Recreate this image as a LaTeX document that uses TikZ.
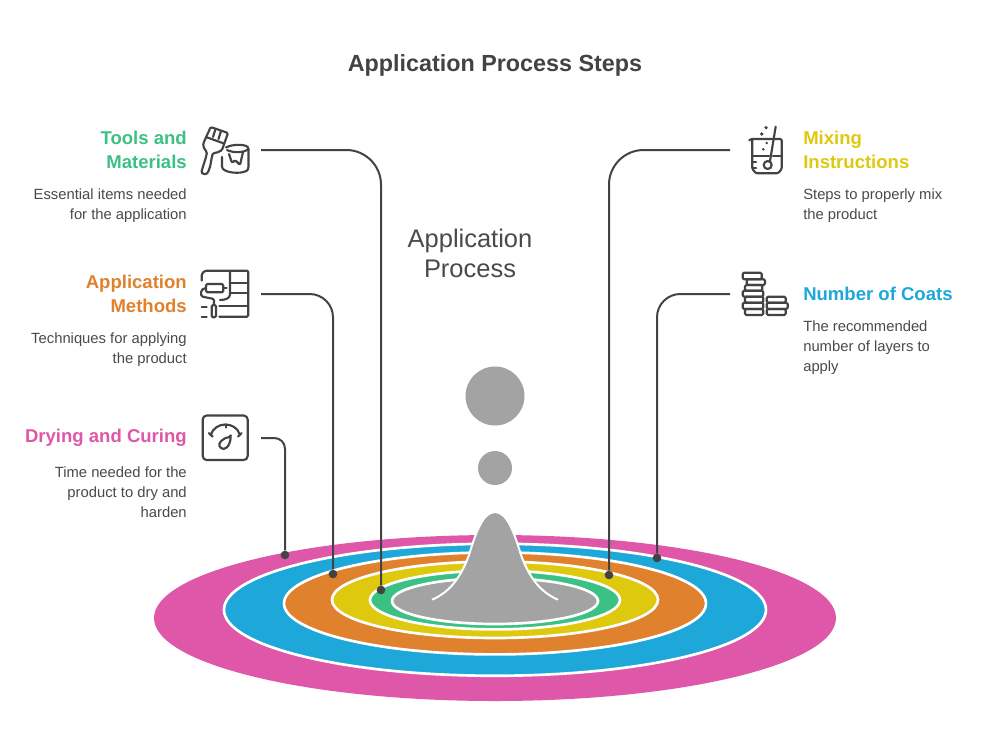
\documentclass[tikz,border=0pt]{standalone}
\usepackage{fontspec}
\setmainfont{Liberation Sans}
\definecolor{ink}{HTML}{434343}
\definecolor{txt}{HTML}{4A4A4A}
\definecolor{pinkc}{HTML}{DF57A8}
\definecolor{bluec}{HTML}{1EA8DA}
\definecolor{orangec}{HTML}{E0812E}
\definecolor{yellowc}{HTML}{DFC90F}
\definecolor{greenc}{HTML}{3CC184}
\definecolor{greyc}{HTML}{A3A3A3}
\tikzset{
  x=0.75pt,y=-0.75pt,
  ring/.style={draw=white,line width=2pt},
  wire/.style={draw=ink,line width=1.5pt,rounded corners=26pt},
  dotn/.style={circle,fill=ink,inner sep=0pt,minimum size=6.5pt},
  ico/.style={draw=ink,line width=1.6pt,line cap=round,line join=round,rounded corners=1pt},
  head/.style={font=\bfseries\fontsize{13.9}{18}\selectfont,align=right,inner sep=0pt},
  body/.style={font=\fontsize{11.1}{15}\selectfont,text=txt,inner sep=0pt},
}
\begin{document}
\begin{tikzpicture}
\useasboundingbox (0,0) rectangle (982,751);
\fill[white] (0,0) rectangle (982,751);
\node[font=\bfseries\fontsize{17.5}{21}\selectfont,text=ink,inner sep=0pt] (title) at (495,65.5) {Application Process Steps};
\node[font=\fontsize{19.1}{22.5}\selectfont,text=txt,align=center,inner sep=0pt] (center) at (470,253) {Application\\Process};

% rings
\fill[pinkc] (495,618) ellipse [x radius=341,y radius=83];
\filldraw[ring,fill=bluec] (495,609.75) ellipse [x radius=271,y radius=66];
\filldraw[ring,fill=orangec] (495,603.4) ellipse [x radius=211,y radius=51];
\filldraw[ring,fill=yellowc] (495,599.75) ellipse [x radius=163,y radius=38.25];
\filldraw[ring,fill=greenc] (495,600) ellipse [x radius=125,y radius=29.4];
\filldraw[ring,fill=greyc] (495,601) ellipse [x radius=103,y radius=23];
% bell
\path[fill=greyc] (432.5,599.5) .. controls (452,591) and (462,574) .. (469,555) .. controls (476,532) and (483,512) .. (495,512) .. controls (507,512) and (514,532) .. (521,555) .. controls (528,574) and (538,591) .. (557.5,599.5) -- (495,615) -- cycle;
\draw[white,line width=1.5pt,line cap=round] (432.5,599.5) .. controls (452,591) and (462,574) .. (469,555) .. controls (476,532) and (483,512) .. (495,512) .. controls (507,512) and (514,532) .. (521,555) .. controls (528,574) and (538,591) .. (557.5,599.5);
\fill[greyc] (495,396) circle [radius=29.5];
\fill[greyc] (495,468) circle [radius=17];

% dots and connector ends
\node[dotn] (d1) at (381,590) {};
\node[dotn] (d2) at (333,574) {};
\node[dotn] (d3) at (285,555) {};
\node[dotn] (d4) at (609,575) {};
\node[dotn] (d5) at (657,558) {};
\coordinate (s1) at (261,150);
\coordinate (s2) at (261,294);
\coordinate (s3) at (261,438);
\coordinate (s4) at (730,150);
\coordinate (s5) at (730,294);
\draw[wire] (s1) -| (d1);
\draw[wire,rounded corners=17.5pt] (s2) -| (d2);
\draw[wire,rounded corners=8pt] (s3) -| (d3);
\draw[wire] (s4) -| (d4);
\draw[wire,rounded corners=17.5pt] (s5) -| (d5);

% left texts
\node[head,text=greenc,anchor=east] (t1) at (187,150) {Tools and\\Materials};
\node[body,anchor=east,align=right] (b1) at (187,206) {Essential items needed\\for the application};
\node[head,text=orangec,anchor=east] (t2) at (187,294) {Application\\Methods};
\node[body,anchor=east,align=right] (b2) at (187,350) {Techniques for applying\\the product};
\node[head,text=pinkc,anchor=east] (t3) at (187,438) {Drying and Curing};
\node[body,anchor=east,align=right] (b3) at (187,492) {Time needed for the\\product to dry and\\harden};
% right texts
\node[head,text=yellowc,anchor=west,align=left] (t4) at (803,150) {Mixing\\Instructions};
\node[body,anchor=west,align=left] (b4) at (803,206) {Steps to properly mix\\the product};
\node[head,text=bluec,anchor=west,align=left] (t5) at (803,294) {Number of Coats};
\node[body,anchor=west,align=left] (b5) at (803,348) {The recommended\\number of layers to\\apply};

% icon: brush and can
\draw[ico] (210.7,127) -- (228,133) -- (222,150) .. controls (219,152) and (216,153) .. (213,153) .. controls (211,159) and (211,166) .. (208,172) .. controls (206,175) and (201,174) .. (202,170) .. controls (204,163) and (206,158) .. (207,152) .. controls (204,149) and (203,146) .. (203.5,143) -- cycle;
\draw[ico] (206,137) -- (224,143.5);
\draw[ico] (215.5,129) -- (213,137);
\draw[ico] (221,131) -- (218.5,139);
\draw[ico] (226,147.5) .. controls (232,144) and (245,144) .. (248.5,148) -- (248.5,168) .. controls (246,174) and (228,174) .. (222,168) -- (222,157);
\draw[ico] (227,150) .. controls (233,153) and (244,153) .. (248.5,149);
\draw[ico] (229,154) -- (232,163) -- (235,160) -- (240,165) -- (243,152);
% icon: roller and wall
\draw[ico] (201.7,280.5) -- (201.7,274) -- (205,270.7) -- (248.3,270.7) -- (248.3,316.7) -- (219.3,316.7);
\draw[ico] (230,271) -- (230,293) .. controls (230,298) and (226,300) .. (220,300);
\draw[ico] (230,283.3) -- (248.3,283.3);
\draw[ico] (230,293.3) -- (248.3,293.3);
\draw[ico] (219.3,305.7) -- (248.3,305.7);
\draw[ico] (206,284) rectangle (223.3,292.3);
\draw[ico] (223.3,288.3) -- (226.7,288.3);
\draw[ico] (206,288) .. controls (200,288) and (200,296) .. (204,297) -- (214,299) -- (214,304);
\draw[ico] (211.7,305) rectangle (216,317.3);
\draw[ico] (201.7,306.7) -- (206.7,306.7);
\draw[ico] (201.7,316.7) -- (206.7,316.7);
% icon: gauge
\draw[ico,rounded corners=3pt] (202.7,415.5) rectangle (247.7,460);
\draw[ico] (210.7,435) .. controls (215,421) and (236,421) .. (240,435);
\draw[ico] (225.7,424.5) -- (225.7,427.5);
\draw[ico] (209,433) -- (212.5,436.5);
\draw[ico] (241.7,433) -- (238.2,436.5);
\draw[ico] (230.7,436.7) .. controls (223,438) and (218,443) .. (220,447) .. controls (224,451) and (230,447) .. (230.7,436.7) -- cycle;
% icon: beaker
\draw[ico] (749.3,140.5) -- (750.5,139) -- (781.7,139) -- (781.7,169) -- (778,173.3) -- (756,173.3) -- (752.3,169) -- (752.3,140);
\draw[ico] (752.3,155.7) -- (769,155.7);
\draw[ico] (773,155.7) -- (781.7,155.7);
\draw[ico] (752.3,161.7) -- (756,161.7);
\draw[ico] (752.3,167.7) -- (756,167.7);
\draw[ico] (775.7,126.7) -- (770,161);
\draw[ico] (767.7,165) circle [radius=4];
\fill[ink] (766,127.7) circle [radius=1.8];
\fill[ink] (761.7,134) circle [radius=1.8];
\fill[ink] (766.7,143) circle [radius=1.4];
\fill[ink] (763.3,149.3) circle [radius=1.4];
% icon: coins
\draw[ico] (742.7,272.7) rectangle (761.7,279.3);
\draw[ico] (746.7,279.3) rectangle (765,285);
\draw[ico] (745,285) rectangle (762.3,290.7);
\draw[ico] (742.7,290.7) rectangle (763.3,296.7);
\draw[ico] (745,296.7) rectangle (763.3,302.7);
\draw[ico] (742.7,302.7) rectangle (763.3,309);
\draw[ico] (745,309) rectangle (763.3,315);
\draw[ico] (766.7,296.7) rectangle (785.7,302.7);
\draw[ico] (766.7,302.7) rectangle (787.7,309);
\draw[ico] (766.7,309) rectangle (785.7,315);
\end{tikzpicture}
\end{document}
